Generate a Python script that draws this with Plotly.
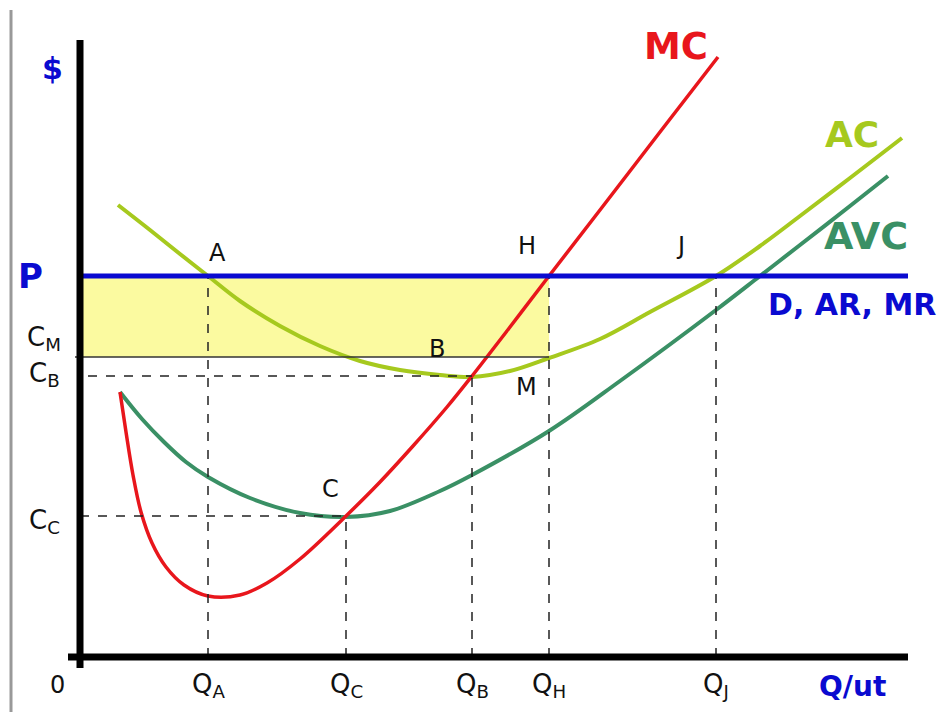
"""Short-run cost curves of a competitive firm: MC, AC, AVC against price P."""

import plotly.graph_objects as go

# Quantities and money levels (chart units, origin at the axes corner)
Q_MARKS = {"A": 128, "C": 266, "B": 392, "H": 469, "J": 636}
P_LEVEL = 381
C_M = 300
C_B = 281
C_C = 141

# Curves
mc_q = [40, 46, 53, 61, 72, 86, 104, 128, 160, 187, 220, 266, 300, 333, 367, 392, 430, 469, 520, 580, 638]
mc_c = [265, 225, 182, 145, 114, 90, 72, 61, 62, 74, 98, 141, 175, 211, 250, 281, 330, 381, 447, 525, 600]

ac_q = [38, 70, 100, 128, 160, 200, 240, 280, 320, 360, 392, 430, 469, 520, 570, 636, 680, 720, 770, 822]
ac_c = [452, 427, 403, 381, 356, 331, 311, 296, 287, 282, 280, 286, 299, 318, 345, 381, 411, 441, 479, 519]

avc_q = [40, 62, 84, 106, 128, 170, 220, 266, 310, 360, 392, 469, 540, 636, 680, 720, 770, 808]
avc_c = [265, 238, 215, 195, 180, 159, 144, 140, 146, 166, 182, 226, 276, 347, 381, 412, 451, 481]

# Axis extents
X_END = 828
Y_END = 617

RED = "#e8161c"
LIME = "#a6c91e"
GREEN = "#3a9065"
BLUE = "#0a0ad0"
FONT = "DejaVu Sans"

fig = go.Figure()

# Profit rectangle between P and C_M up to Q_H
fig.add_shape(
    type="rect", x0=0, x1=Q_MARKS["H"], y0=C_M, y1=P_LEVEL,
    fillcolor="#fbfaa0", line_width=0, layer="below",
)

# Dashed guide lines
dash = {"color": "#222222", "width": 1.5, "dash": "dash"}
for key, top in [("A", P_LEVEL), ("C", C_C), ("B", C_B), ("H", P_LEVEL), ("J", P_LEVEL)]:
    fig.add_shape(type="line", x0=Q_MARKS[key], x1=Q_MARKS[key], y0=0, y1=top, line=dash)
fig.add_shape(type="line", x0=8, x1=Q_MARKS["B"], y0=C_B, y1=C_B, line=dash)
fig.add_shape(type="line", x0=0, x1=Q_MARKS["C"], y0=C_C, y1=C_C, line=dash)

# Solid C_M line
fig.add_shape(type="line", x0=-5, x1=Q_MARKS["H"], y0=C_M, y1=C_M,
              line={"color": "#333333", "width": 1.5})

# Curves
fig.add_trace(go.Scatter(x=avc_q, y=avc_c, mode="lines", line={"color": GREEN, "width": 4, "shape": "spline"}))
fig.add_trace(go.Scatter(x=ac_q, y=ac_c, mode="lines", line={"color": LIME, "width": 4, "shape": "spline"}))
fig.add_trace(go.Scatter(x=mc_q, y=mc_c, mode="lines", line={"color": RED, "width": 3.5, "shape": "spline"}))

# Price line
fig.add_shape(type="line", x0=0, x1=X_END, y0=P_LEVEL, y1=P_LEVEL, line={"color": BLUE, "width": 5})

# Axes
fig.add_shape(type="line", x0=0, x1=0, y0=-11, y1=Y_END, line={"color": "black", "width": 7})
fig.add_shape(type="line", x0=-12, x1=X_END, y0=0, y1=0, line={"color": "black", "width": 7})

# Page edge on the left
fig.add_shape(type="line", x0=-69, x1=-69, y0=-60, y1=647, line={"color": "#999999", "width": 3})


def label(x, y, text, size=24, color="#111111", bold=False):
    fig.add_annotation(
        x=x, y=y, xref="x", yref="y", text=f"<b>{text}</b>" if bold else text,
        showarrow=False, font={"family": FONT, "size": size, "color": color},
    )


# Axis labels
label(-28, 589, "$", 30, BLUE, True)
label(-50, 381, "P", 34, BLUE, True)
label(-36, 319, "C<sub>M</sub>", 26)
label(-36, 283, "C<sub>B</sub>", 26)
label(-36, 136, "C<sub>C</sub>", 26)
label(-23, -28, "0", 24)
for key, q in Q_MARKS.items():
    label(q, -28, f"Q<sub>{key}</sub>", 26)
label(772, -29, "Q/ut", 28, BLUE, True)

# Point labels
label(137, 404, "A", 24)
label(447, 411, "H", 24)
label(600, 411, "J", 24)
label(357, 308, "B", 24)
label(446, 270, "M", 24)
label(250, 168, "C", 24)

# Curve labels
label(596, 611, "MC", 37, RED, True)
label(772, 523, "AC", 36, LIME, True)
label(786, 421, "AVC", 38, GREEN, True)
label(772, 353, "D, AR, MR", 30, BLUE, True)

fig.update_layout(
    width=946,
    height=712,
    margin={"l": 0, "r": 0, "t": 0, "b": 0},
    showlegend=False,
    plot_bgcolor="white",
    paper_bgcolor="white",
    xaxis={"range": [-80, 866], "visible": False, "fixedrange": True},
    yaxis={"range": [-55, 657], "visible": False, "fixedrange": True},
)

fig.write_html(
    "out.html",
    config={"displayModeBar": False},
    post_script="document.body.style.margin='0';",
)
